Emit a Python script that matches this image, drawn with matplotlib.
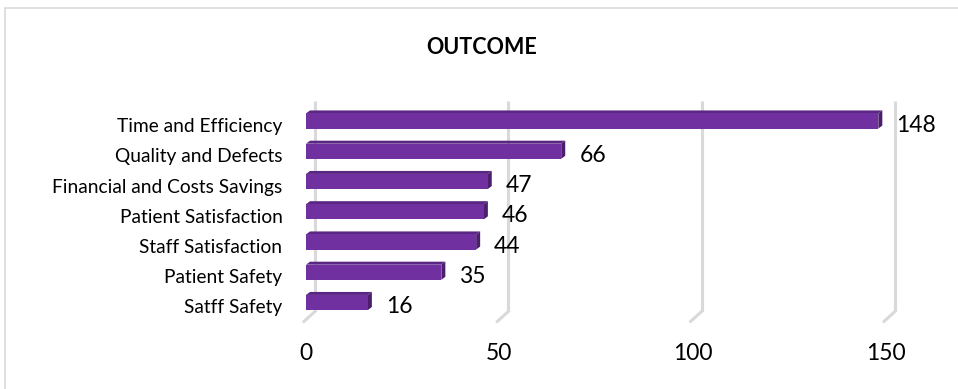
import matplotlib
matplotlib.use("Agg")
import matplotlib.pyplot as plt
from matplotlib.patches import Polygon, Rectangle
from matplotlib.transforms import ScaledTranslation

plt.rcParams['font.family'] = ['Lato', 'DejaVu Sans']

categories = ["Time and Efficiency", "Quality and Defects", "Financial and Costs Savings",
              "Patient Satisfaction", "Staff Satisfaction", "Patient Safety", "Satff Safety"]
values = [148, 66, 47, 46, 44, 35, 16]
ticks = [0, 50, 100, 150]
title = "OUTCOME"

W, H, DPI = 958, 389, 100
fig = plt.figure(figsize=(W / DPI, H / DPI), dpi=DPI)

# plot area geometry in pixels
x0_px, px_per_unit = 306, 3.867
row_px = 30.25
top_px, bottom_px = 100, 322
first_row_px = 121
xmax = 160
ax_w = xmax * px_per_unit
ax_h = bottom_px - top_px
ax = fig.add_axes([x0_px / W, (H - bottom_px) / H, ax_w / W, ax_h / H])
ax.set_xlim(0, xmax)
ytop = -(first_row_px - top_px) / row_px
ybot = ytop + ax_h / row_px
ax.set_ylim(ybot, ytop)
for s in ax.spines.values():
    s.set_visible(False)

# 3D depth (data units)
gx = 9 / px_per_unit          # back-wall offset
fx, fy = 11 / px_per_unit, 10 / row_px   # floor foot
dx, dy = 4 / px_per_unit, 3 / row_px     # bar depth
grid_col = "#D9D9D9"
for t in ticks:
    ax.plot([t + gx, t + gx], [ytop + 0.02, ybot - 0.35], color=grid_col, lw=2.2,
            solid_capstyle="butt", clip_on=False, zorder=1)
    ax.plot([t + gx, t + gx - fx], [ybot - 0.35, ybot - 0.35 + fy], color=grid_col,
            lw=2.2, clip_on=False, zorder=1)

front, topc, side = "#7030A0", "#5A2683", "#4B1F6E"
bh = 0.5
for i, v in enumerate(values):
    y0, y1 = i - bh / 2, i + bh / 2
    ax.add_patch(Polygon([(0, y0), (v, y0), (v + dx, y0 - dy), (dx, y0 - dy)],
                         closed=True, fc=topc, ec="none", zorder=3, clip_on=False))
    ax.add_patch(Polygon([(v, y0), (v + dx, y0 - dy), (v + dx, y1 - dy), (v, y1)],
                         closed=True, fc=side, ec="none", zorder=3, clip_on=False))
    ax.add_patch(Rectangle((0, y0), v, bh, fc=front, ec="none", zorder=4, clip_on=False))
    ax.annotate(str(v), (v, i), xytext=(13, -3), textcoords="offset points",
                ha="left", va="center", fontsize=16.5, color="#000000", clip_on=False)

ax.set_xticks(ticks)
ax.set_xticklabels([str(t) for t in ticks], fontsize=16.5)
ax.set_yticks(range(len(categories)))
ax.set_yticklabels(categories, fontsize=13.8)
ax.tick_params(axis="x", length=0, pad=15)
ax.tick_params(axis="y", length=0, pad=17)
for lab in ax.get_yticklabels():
    lab.set_transform(lab.get_transform() + ScaledTranslation(0, -4 / DPI, fig.dpi_scale_trans))

fig.text(0.503, 1 - 47 / H, title, ha="center", va="center", fontsize=15.5, fontweight="bold")

# chart-area frame
fig.patches.append(Rectangle((5 / W, -0.01), 1.0, 1 - 8 / H + 0.01, transform=fig.transFigure,
                             fill=False, ec="#D9D9D9", lw=1.2, zorder=0))

fig.savefig("out.png", dpi=DPI)
